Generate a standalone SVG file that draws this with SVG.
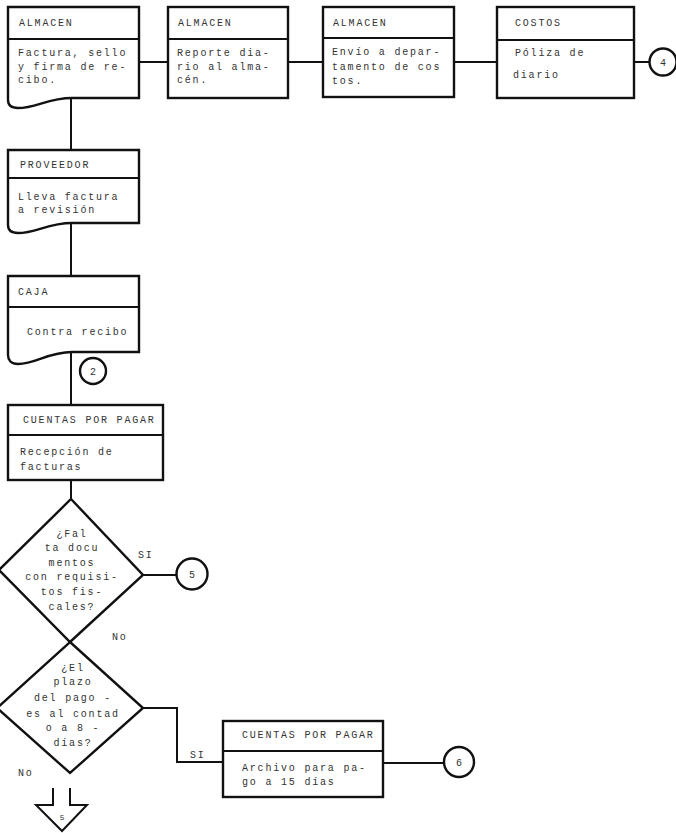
<svg xmlns="http://www.w3.org/2000/svg" width="676" height="833" viewBox="0 0 676 833">
<style>
.s{fill:#fff;stroke:#111;stroke-width:2.4}
.l{fill:none;stroke:#111;stroke-width:2}
.t{font-family:"Liberation Mono",monospace;font-size:10px;fill:#333;letter-spacing:1.8px}
.c{text-anchor:middle}
</style>
<rect width="676" height="833" fill="#fff"/>
<g id="connectors">
<path class="l" d="M139,62H168M288,62H323M454,62H497M634,62H649"/>
<path class="l" d="M71,99V150M71,224V276M71,353V405M71,480V499"/>
<path class="l" d="M143,575H177"/>
<path class="l" d="M143,708H177V762H223"/>
<path class="l" d="M383,763H443"/>
<text class="t" x="138" y="558">SI</text>
<text class="t" x="112" y="640">No</text>
<text class="t" x="190" y="758">SI</text>
<text class="t" x="18" y="776">No</text>
</g>
<g id="n1">
<path class="s" d="M8,7H139V98H72C48,98 36,108 18,108C11,108 8,105 8,100Z"/>
<path class="l" d="M8,39H139"/>
<text class="t" x="19" y="26">ALMACEN</text>
<text class="t" x="18" y="56">Factura, sello</text>
<text class="t" x="18" y="70">y firma de re-</text>
<text class="t" x="18" y="83">cibo.</text>
</g>
<g id="n2">
<rect class="s" x="168" y="7" width="120" height="91"/>
<path class="l" d="M168,39H288"/>
<text class="t" x="178" y="26">ALMACEN</text>
<text class="t" x="177" y="56">Reporte dia-</text>
<text class="t" x="177" y="70">rio al alma-</text>
<text class="t" x="177" y="83">cén.</text>
</g>
<g id="n3">
<rect class="s" x="323" y="7" width="131" height="90"/>
<path class="l" d="M323,38H454"/>
<text class="t" x="333" y="26">ALMACEN</text>
<text class="t" x="332" y="55">Envío a depar-</text>
<text class="t" x="332" y="70">tamento de cos</text>
<text class="t" x="332" y="84">tos.</text>
</g>
<g id="n4">
<rect class="s" x="497" y="7" width="137" height="91"/>
<path class="l" d="M497,40H634"/>
<text class="t" x="515" y="26">COSTOS</text>
<text class="t" x="515" y="56">Póliza de</text>
<text class="t" x="513" y="78">diario</text>
</g>
<g id="c4">
<circle class="s" cx="663" cy="62" r="13.5"/>
<text class="t c" x="664" y="66">4</text>
</g>
<g id="n5">
<path class="s" d="M8,150H139V223H72C48,223 36,233 18,233C11,233 8,230 8,225Z"/>
<path class="l" d="M8,178H139"/>
<text class="t" x="20" y="168">PROVEEDOR</text>
<text class="t" x="18" y="200">Lleva factura</text>
<text class="t" x="18" y="213">a revisión</text>
</g>
<g id="n6">
<path class="s" d="M8,276H139V352H72C48,352 36,364 18,364C11,364 8,360 8,355Z"/>
<path class="l" d="M8,307H139"/>
<text class="t" x="18" y="295">CAJA</text>
<text class="t" x="27" y="335">Contra recibo</text>
</g>
<g id="c2">
<circle class="s" cx="93" cy="371" r="13"/>
<text class="t c" x="94" y="375">2</text>
</g>
<g id="n7">
<rect class="s" x="8" y="405" width="155" height="75"/>
<path class="l" d="M8,435H163"/>
<text class="t" x="23" y="423">CUENTAS POR PAGAR</text>
<text class="t" x="20" y="455">Recepción de</text>
<text class="t" x="20" y="470">facturas</text>
</g>
<g id="d1">
<path class="s" d="M71,499L143,575L70,642L-1,570Z"/>
<text class="t c" x="72" y="537">¿Fal</text>
<text class="t c" x="72" y="551">ta docu</text>
<text class="t c" x="72" y="566">mentos</text>
<text class="t c" x="72" y="580">con requisi-</text>
<text class="t c" x="72" y="595">tos fis-</text>
<text class="t c" x="72" y="610">cales?</text>
</g>
<g id="c5">
<circle class="s" cx="192" cy="574" r="15.5"/>
<text class="t c" x="193" y="578">5</text>
</g>
<g id="d2">
<path class="s" d="M70,642L143,708L70,773L-3,708Z"/>
<text class="t c" x="73" y="671">¿El</text>
<text class="t c" x="73" y="685">plazo</text>
<text class="t c" x="73" y="701">del pago -</text>
<text class="t c" x="73" y="717">es al contad</text>
<text class="t c" x="73" y="731">o a 8 -</text>
<text class="t c" x="73" y="746">días?</text>
</g>
<g id="n8">
<rect class="s" x="223" y="721" width="160" height="76"/>
<path class="l" d="M223,751H383"/>
<text class="t" x="242" y="738">CUENTAS POR PAGAR</text>
<text class="t" x="242" y="771">Archivo para pa-</text>
<text class="t" x="242" y="785">go a 15 días</text>
</g>
<g id="c6">
<circle class="s" cx="459" cy="762" r="15"/>
<text class="t c" x="460" y="766">6</text>
</g>
<g id="arrow">
<path class="l" d="M53,788V805H36L62,831L87,805H70V788"/>
<text class="t c" x="63" y="820" style="font-size:8px">5</text>
</g>
</svg>
